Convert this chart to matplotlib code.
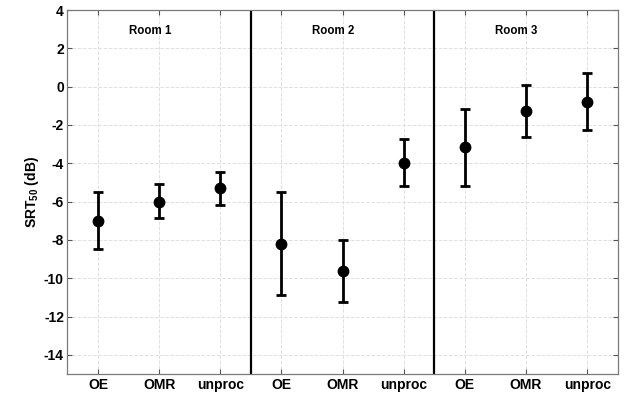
import matplotlib
matplotlib.use("Agg")
import matplotlib.pyplot as plt

plt.rcParams['font.family'] = ['Liberation Sans', 'DejaVu Sans']
plt.rcParams['font.weight'] = 'bold'
plt.rcParams['mathtext.fontset'] = 'custom'
plt.rcParams['mathtext.rm'] = 'Liberation Sans:bold'
plt.rcParams['mathtext.bf'] = 'Liberation Sans:bold'

# data
conditions = ['OE', 'OMR', 'unproc'] * 3
rooms = ['Room 1', 'Room 2', 'Room 3']
means = [-7.0, -6.0, -5.3, -8.2, -9.6, -3.97, -3.16, -1.28, -0.79]
upper = [-5.5, -5.06, -4.45, -5.5, -8.01, -2.75, -1.14, 0.08, 0.71]
lower = [-8.5, -6.88, -6.16, -10.9, -11.22, -5.18, -5.2, -2.62, -2.26]
yticks = list(range(-14, 5, 2))


def main():
    fig = plt.figure(figsize=(6.24, 3.96), dpi=100)
    ax = fig.add_axes([0.108, 0.0556, 0.882, 0.919])

    x = list(range(1, len(means) + 1))
    err_lo = [m - lo for m, lo in zip(means, lower)]
    err_hi = [hi - m for m, hi in zip(means, upper)]
    ax.errorbar(x, means, yerr=[err_lo, err_hi], fmt='o', color='black',
                ms=7.5, lw=2, capsize=3.8, capthick=2, zorder=3)

    # room separators
    for xs in (3.5, 6.5):
        ax.axvline(xs, color='black', lw=1.6, zorder=2)
    for i, name in enumerate(rooms):
        ax.text(1.5 + 3 * i, 2.9, name, fontsize=8.3, fontweight='bold',
                ha='left', va='center')

    ax.set_xlim(0.5, 9.5)
    ax.set_ylim(-15, 4)
    ax.set_xticks(x)
    ax.set_xticklabels(conditions, fontsize=10, fontweight='bold')
    ax.set_yticks(yticks)
    ax.set_yticklabels([str(t) for t in yticks], fontsize=10, fontweight='bold')
    ax.set_ylabel(r'SRT$_{\mathbf{50}}$ (dB)', fontsize=10, fontweight='bold',
                  labelpad=2)

    ax.grid(True, ls='--', color='#e0e0e0', lw=0.7)
    ax.set_axisbelow(True)
    ax.tick_params(direction='in', length=3.5, width=0.8, color='#555555',
                   top=True, right=True)
    ax.tick_params(axis='y', pad=2.5)
    ax.tick_params(axis='x', pad=3)
    for s in ax.spines.values():
        s.set_color('#7a7a7a')
        s.set_linewidth(0.9)

    fig.savefig('out.png', dpi=100)


if __name__ == "__main__":
    main()
